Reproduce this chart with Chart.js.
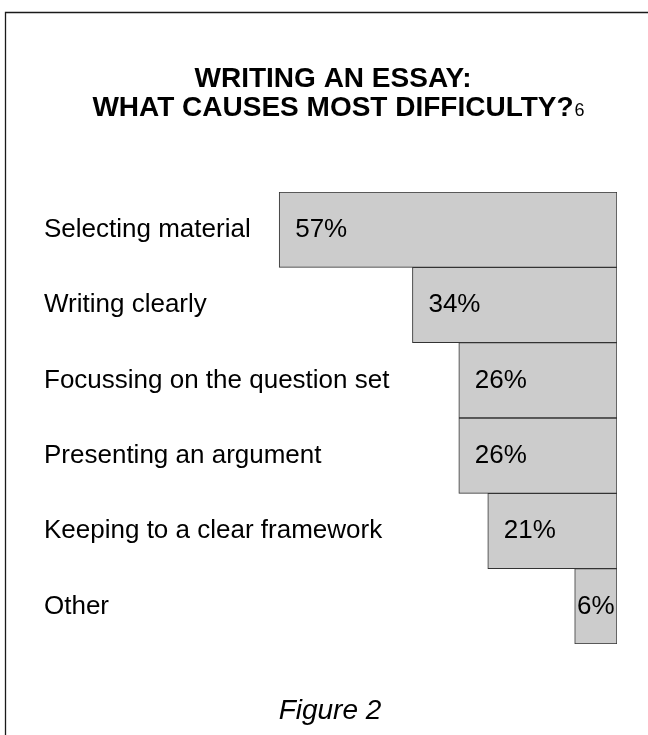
<!DOCTYPE html>
<html>
<head>
<meta charset="utf-8">
<script src="https://cdn.jsdelivr.net/npm/chart.js@4"></script>
<style>
  html, body { margin: 0; padding: 0; background: #ffffff; }
  #wrap { position: relative; width: 648px; height: 735px; }
</style>
</head>
<body>
<div id="wrap"><canvas id="c"></canvas></div>
<script>
const categories = [
  "Selecting material",
  "Writing clearly",
  "Focussing on the question set",
  "Presenting an argument",
  "Keeping to a clear framework",
  "Other"
];
const percentages = [57, 34, 26, 26, 21, 6];
const titleLines = ["WRITING AN ESSAY:", "WHAT CAUSES MOST DIFFICULTY?"];
const titleNote = "6";
const caption = "Figure 2";
const AXIS_START = -1.3;
const AXIS_END = 100;

const FONT = '"Liberation Sans", Arial, Helvetica, sans-serif';

const decor = {
  id: 'decor',
  afterDatasetsDraw(chart) {
    const ctx = chart.ctx;
    const meta = chart.getDatasetMeta(0);
    ctx.save();
    ctx.font = '26px ' + FONT;
    ctx.fillStyle = '#000';
    ctx.textBaseline = 'middle';
    meta.data.forEach((bar, i) => {
      const label = percentages[i] + '%';
      const left = Math.min(bar.x, bar.base);
      const right = Math.max(bar.x, bar.base);
      const w = ctx.measureText(label).width;
      if (right - left >= w + 24) {
        ctx.textAlign = 'left';
        ctx.fillText(label, left + 16, bar.y);
      } else {
        ctx.textAlign = 'center';
        ctx.fillText(label, (left + right) / 2, bar.y);
      }
    });
    ctx.restore();
  },
  afterDraw(chart) {
    const ctx = chart.ctx;
    ctx.save();
    // frame
    ctx.strokeStyle = '#1a1a1a';
    ctx.lineWidth = 1.3;
    ctx.beginPath();
    ctx.moveTo(5.5, 735);
    ctx.lineTo(5.5, 12.5);
    ctx.lineTo(648, 12.5);
    ctx.stroke();
    // title
    const cx = 333;
    ctx.fillStyle = '#000';
    ctx.textBaseline = 'alphabetic';
    ctx.textAlign = 'center';
    ctx.font = 'bold 28px ' + FONT;
    ctx.fillText(titleLines[0], cx, 87);
    ctx.fillText(titleLines[1], cx, 116);
    const w2 = ctx.measureText(titleLines[1]).width;
    ctx.textAlign = 'left';
    ctx.font = '18px ' + FONT;
    ctx.fillText(titleNote, cx + w2 / 2 + 1, 116);
    // caption
    ctx.textAlign = 'center';
    ctx.font = 'italic 28px ' + FONT;
    ctx.fillText(caption, 330, 719);
    ctx.restore();
  }
};

new Chart(document.getElementById('c'), {
  type: 'bar',
  data: {
    labels: categories,
    datasets: [{
      data: percentages,
      base: AXIS_START,
      backgroundColor: '#cccccc',
      borderColor: '#333333',
      borderWidth: 1,
      borderSkipped: false,
      barPercentage: 1,
      categoryPercentage: 1
    }]
  },
  options: {
    indexAxis: 'y',
    responsive: true,
    maintainAspectRatio: false,
    animation: false,
    layout: { padding: { top: 192, bottom: 91, left: 0, right: 31 } },
    plugins: { legend: { display: false }, title: { display: false }, tooltip: { enabled: false } },
    scales: {
      x: {
        display: false,
        reverse: true,
        min: AXIS_START,
        max: AXIS_END
      },
      y: {
        display: true,
        grid: { display: false, drawTicks: false },
        border: { display: false },
        afterFit(scale) { scale.width = 30; },
        ticks: {
          mirror: true,
          padding: 14,
          color: '#000',
          autoSkip: false,
          font: { family: FONT, size: 26 }
        }
      }
    }
  },
  plugins: [decor]
});
</script>
</body>
</html>
